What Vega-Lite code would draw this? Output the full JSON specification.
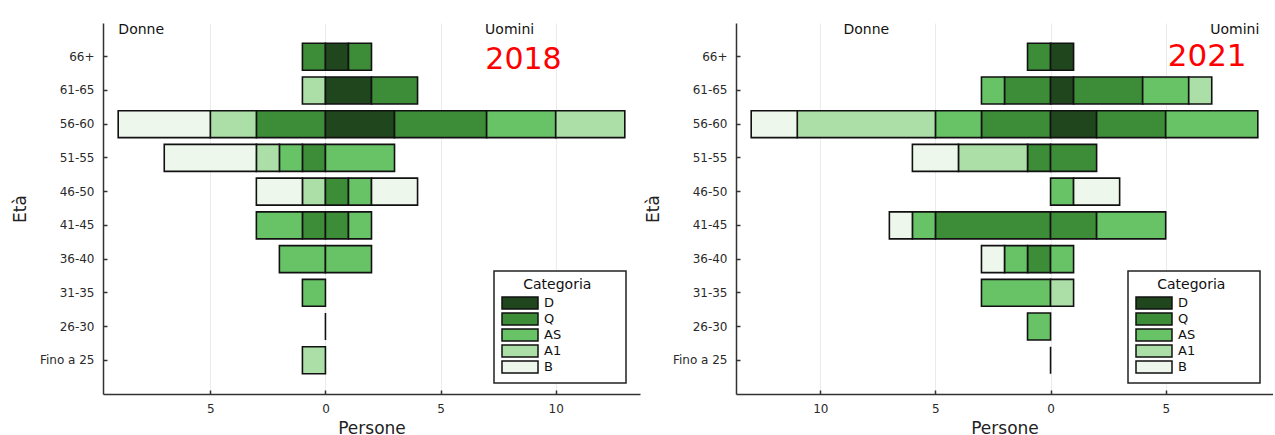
{
  "$schema": "https://vega.github.io/schema/vega-lite/v6.json",
  "padding": {"left": 11, "top": 22, "right": 0, "bottom": 2},
  "spacing": 4,
  "datasets": {
    "categorie": [
      {"cat": "D", "rank": 1},
      {"cat": "Q", "rank": 2},
      {"cat": "AS", "rank": 3},
      {"cat": "A1", "rank": 4},
      {"cat": "B", "rank": 5}
    ],
    "bars": [
      {"anno": 2018, "eta": "66+", "sesso": "Donne", "cat": "Q", "persone": -1},
      {"anno": 2018, "eta": "66+", "sesso": "Uomini", "cat": "D", "persone": 1},
      {"anno": 2018, "eta": "66+", "sesso": "Uomini", "cat": "Q", "persone": 1},
      {"anno": 2018, "eta": "61-65", "sesso": "Donne", "cat": "A1", "persone": -1},
      {"anno": 2018, "eta": "61-65", "sesso": "Uomini", "cat": "D", "persone": 2},
      {"anno": 2018, "eta": "61-65", "sesso": "Uomini", "cat": "Q", "persone": 2},
      {"anno": 2018, "eta": "56-60", "sesso": "Donne", "cat": "Q", "persone": -3},
      {"anno": 2018, "eta": "56-60", "sesso": "Donne", "cat": "A1", "persone": -2},
      {"anno": 2018, "eta": "56-60", "sesso": "Donne", "cat": "B", "persone": -4},
      {"anno": 2018, "eta": "56-60", "sesso": "Uomini", "cat": "D", "persone": 3},
      {"anno": 2018, "eta": "56-60", "sesso": "Uomini", "cat": "Q", "persone": 4},
      {"anno": 2018, "eta": "56-60", "sesso": "Uomini", "cat": "AS", "persone": 3},
      {"anno": 2018, "eta": "56-60", "sesso": "Uomini", "cat": "A1", "persone": 3},
      {"anno": 2018, "eta": "51-55", "sesso": "Donne", "cat": "Q", "persone": -1},
      {"anno": 2018, "eta": "51-55", "sesso": "Donne", "cat": "AS", "persone": -1},
      {"anno": 2018, "eta": "51-55", "sesso": "Donne", "cat": "A1", "persone": -1},
      {"anno": 2018, "eta": "51-55", "sesso": "Donne", "cat": "B", "persone": -4},
      {"anno": 2018, "eta": "51-55", "sesso": "Uomini", "cat": "AS", "persone": 3},
      {"anno": 2018, "eta": "46-50", "sesso": "Donne", "cat": "A1", "persone": -1},
      {"anno": 2018, "eta": "46-50", "sesso": "Donne", "cat": "B", "persone": -2},
      {"anno": 2018, "eta": "46-50", "sesso": "Uomini", "cat": "Q", "persone": 1},
      {"anno": 2018, "eta": "46-50", "sesso": "Uomini", "cat": "AS", "persone": 1},
      {"anno": 2018, "eta": "46-50", "sesso": "Uomini", "cat": "B", "persone": 2},
      {"anno": 2018, "eta": "41-45", "sesso": "Donne", "cat": "Q", "persone": -1},
      {"anno": 2018, "eta": "41-45", "sesso": "Donne", "cat": "AS", "persone": -2},
      {"anno": 2018, "eta": "41-45", "sesso": "Uomini", "cat": "Q", "persone": 1},
      {"anno": 2018, "eta": "41-45", "sesso": "Uomini", "cat": "AS", "persone": 1},
      {"anno": 2018, "eta": "36-40", "sesso": "Donne", "cat": "AS", "persone": -2},
      {"anno": 2018, "eta": "36-40", "sesso": "Uomini", "cat": "AS", "persone": 2},
      {"anno": 2018, "eta": "31-35", "sesso": "Donne", "cat": "AS", "persone": -1},
      {"anno": 2018, "eta": "26-30", "sesso": "Uomini", "cat": "B", "persone": 0},
      {"anno": 2018, "eta": "Fino a 25", "sesso": "Donne", "cat": "A1", "persone": -1},

      {"anno": 2021, "eta": "66+", "sesso": "Donne", "cat": "Q", "persone": -1},
      {"anno": 2021, "eta": "66+", "sesso": "Uomini", "cat": "D", "persone": 1},
      {"anno": 2021, "eta": "61-65", "sesso": "Donne", "cat": "Q", "persone": -2},
      {"anno": 2021, "eta": "61-65", "sesso": "Donne", "cat": "AS", "persone": -1},
      {"anno": 2021, "eta": "61-65", "sesso": "Uomini", "cat": "D", "persone": 1},
      {"anno": 2021, "eta": "61-65", "sesso": "Uomini", "cat": "Q", "persone": 3},
      {"anno": 2021, "eta": "61-65", "sesso": "Uomini", "cat": "AS", "persone": 2},
      {"anno": 2021, "eta": "61-65", "sesso": "Uomini", "cat": "A1", "persone": 1},
      {"anno": 2021, "eta": "56-60", "sesso": "Donne", "cat": "Q", "persone": -3},
      {"anno": 2021, "eta": "56-60", "sesso": "Donne", "cat": "AS", "persone": -2},
      {"anno": 2021, "eta": "56-60", "sesso": "Donne", "cat": "A1", "persone": -6},
      {"anno": 2021, "eta": "56-60", "sesso": "Donne", "cat": "B", "persone": -2},
      {"anno": 2021, "eta": "56-60", "sesso": "Uomini", "cat": "D", "persone": 2},
      {"anno": 2021, "eta": "56-60", "sesso": "Uomini", "cat": "Q", "persone": 3},
      {"anno": 2021, "eta": "56-60", "sesso": "Uomini", "cat": "AS", "persone": 4},
      {"anno": 2021, "eta": "51-55", "sesso": "Donne", "cat": "Q", "persone": -1},
      {"anno": 2021, "eta": "51-55", "sesso": "Donne", "cat": "A1", "persone": -3},
      {"anno": 2021, "eta": "51-55", "sesso": "Donne", "cat": "B", "persone": -2},
      {"anno": 2021, "eta": "51-55", "sesso": "Uomini", "cat": "Q", "persone": 2},
      {"anno": 2021, "eta": "46-50", "sesso": "Uomini", "cat": "AS", "persone": 1},
      {"anno": 2021, "eta": "46-50", "sesso": "Uomini", "cat": "B", "persone": 2},
      {"anno": 2021, "eta": "41-45", "sesso": "Donne", "cat": "Q", "persone": -5},
      {"anno": 2021, "eta": "41-45", "sesso": "Donne", "cat": "AS", "persone": -1},
      {"anno": 2021, "eta": "41-45", "sesso": "Donne", "cat": "B", "persone": -1},
      {"anno": 2021, "eta": "41-45", "sesso": "Uomini", "cat": "Q", "persone": 2},
      {"anno": 2021, "eta": "41-45", "sesso": "Uomini", "cat": "AS", "persone": 3},
      {"anno": 2021, "eta": "36-40", "sesso": "Donne", "cat": "Q", "persone": -1},
      {"anno": 2021, "eta": "36-40", "sesso": "Donne", "cat": "AS", "persone": -1},
      {"anno": 2021, "eta": "36-40", "sesso": "Donne", "cat": "B", "persone": -1},
      {"anno": 2021, "eta": "36-40", "sesso": "Uomini", "cat": "AS", "persone": 1},
      {"anno": 2021, "eta": "31-35", "sesso": "Donne", "cat": "AS", "persone": -3},
      {"anno": 2021, "eta": "31-35", "sesso": "Uomini", "cat": "A1", "persone": 1},
      {"anno": 2021, "eta": "26-30", "sesso": "Donne", "cat": "AS", "persone": -1},
      {"anno": 2021, "eta": "Fino a 25", "sesso": "Uomini", "cat": "B", "persone": 0}
    ],
    "labels": [
      {"anno": 2018, "testo": "Donne", "x": -8, "eta": "66+"},
      {"anno": 2018, "testo": "Uomini", "x": 8, "eta": "66+"},
      {"anno": 2021, "testo": "Donne", "x": -8, "eta": "66+"},
      {"anno": 2021, "testo": "Uomini", "x": 8, "eta": "66+"}
    ],
    "anni": [
      {"anno": 2018, "testo": "2018", "x": 8.6, "eta": "66+"},
      {"anno": 2021, "testo": "2021", "x": 6.8, "eta": "66+"}
    ]
  },
  "hconcat": [
    {
      "width": 537,
      "height": 371,
      "layer": [
        {
          "data": {"name": "bars"},
          "transform": [
            {"filter": "datum.anno == 2018"},
            {"lookup": "cat", "from": {"data": {"name": "categorie"}, "key": "cat", "fields": ["rank"]}}
          ],
          "mark": {"type": "bar", "stroke": "#111", "strokeWidth": 1.6},
          "encoding": {
            "y": {"field": "eta", "type": "nominal", "scale": {"domain": ["66+", "61-65", "56-60", "51-55", "46-50", "41-45", "36-40", "31-35", "26-30", "Fino a 25"], "paddingInner": 0.2, "paddingOuter": 0.6}, "title": "Età"},
            "x": {"field": "persone", "type": "quantitative", "stack": "zero", "scale": {"domain": [-9.66, 13.66], "nice": false, "zero": false}, "axis": {"values": [-5, 0, 5, 10], "labelExpr": "abs(datum.value)"}, "title": "Persone"},
            "order": {"field": "rank", "type": "quantitative"},
            "color": {"field": "cat", "type": "nominal", "scale": {"domain": ["D", "Q", "AS", "A1", "B"], "range": ["#1f461d", "#3d8c38", "#68c266", "#acdea7", "#edf7eb"]}, "title": "\u200b\u00a0\u00a0\u00a0\u00a0\u00a0Categoria\u00a0\u00a0\u00a0\u00a0\u00a0\u00a0\u200b", "legend": {"orient": "none", "legendX": 391, "legendY": 248}}
          }
        },
        {
          "data": {"name": "labels"},
          "transform": [{"filter": "datum.anno == 2018"}],
          "mark": {"type": "text", "fontSize": 14, "color": "#111", "dy": -27},
          "encoding": {
            "x": {"field": "x", "type": "quantitative"},
            "y": {"field": "eta", "type": "nominal"},
            "text": {"field": "testo"}
          }
        },
        {
          "data": {"name": "anni"},
          "transform": [{"filter": "datum.anno == 2018"}],
          "mark": {"type": "text", "fontSize": 30, "color": "#ff0000", "dy": 3},
          "encoding": {
            "x": {"field": "x", "type": "quantitative"},
            "y": {"field": "eta", "type": "nominal"},
            "text": {"field": "testo"}
          }
        }
      ]
    },
    {
      "width": 537,
      "height": 371,
      "layer": [
        {
          "data": {"name": "bars"},
          "transform": [
            {"filter": "datum.anno == 2021"},
            {"lookup": "cat", "from": {"data": {"name": "categorie"}, "key": "cat", "fields": ["rank"]}}
          ],
          "mark": {"type": "bar", "stroke": "#111", "strokeWidth": 1.6},
          "encoding": {
            "y": {"field": "eta", "type": "nominal", "scale": {"domain": ["66+", "61-65", "56-60", "51-55", "46-50", "41-45", "36-40", "31-35", "26-30", "Fino a 25"], "paddingInner": 0.2, "paddingOuter": 0.6}, "title": "Età"},
            "x": {"field": "persone", "type": "quantitative", "stack": "zero", "scale": {"domain": [-13.66, 9.66], "nice": false, "zero": false}, "axis": {"values": [-10, -5, 0, 5], "labelExpr": "abs(datum.value)"}, "title": "Persone"},
            "order": {"field": "rank", "type": "quantitative"},
            "color": {"field": "cat", "type": "nominal", "scale": {"domain": ["D", "Q", "AS", "A1", "B"], "range": ["#1f461d", "#3d8c38", "#68c266", "#acdea7", "#edf7eb"]}, "title": "\u200b\u00a0\u00a0\u00a0\u00a0\u00a0Categoria\u00a0\u00a0\u00a0\u00a0\u00a0\u00a0\u200b", "legend": {"orient": "none", "legendX": 392, "legendY": 248}}
          }
        },
        {
          "data": {"name": "labels"},
          "transform": [{"filter": "datum.anno == 2021"}],
          "mark": {"type": "text", "fontSize": 14, "color": "#111", "dy": -27},
          "encoding": {
            "x": {"field": "x", "type": "quantitative"},
            "y": {"field": "eta", "type": "nominal"},
            "text": {"field": "testo"}
          }
        },
        {
          "data": {"name": "anni"},
          "transform": [{"filter": "datum.anno == 2021"}],
          "mark": {"type": "text", "fontSize": 31, "color": "#ff0000", "dy": 0},
          "encoding": {
            "x": {"field": "x", "type": "quantitative"},
            "y": {"field": "eta", "type": "nominal"},
            "text": {"field": "testo"}
          }
        }
      ]
    }
  ],
  "resolve": {"scale": {"color": "independent", "x": "independent", "y": "independent"}, "legend": {"color": "independent"}},
  "config": {
    "font": "DejaVu Sans",
    "view": {"stroke": null},
    "axis": {
      "domainColor": "#333",
      "domainWidth": 1.5,
      "tickColor": "#333",
      "tickWidth": 1.5,
      "tickSize": -4,
      "labelColor": "#2a2a2a",
      "labelFontSize": 12,
      "titleFontSize": 17,
      "titleFontWeight": "normal",
      "titleColor": "#222"
    },
    "axisX": {"grid": true, "gridColor": "#ebebeb", "gridWidth": 1, "labelPadding": 13, "titlePadding": 6},
    "axisY": {"grid": false, "labelPadding": 13, "titlePadding": 10},
    "legend": {
      "strokeColor": "#222",
      "strokeWidth": 1.5,
      "fillColor": "#ffffff",
      "padding": 7,
      "titleFontSize": 14,
      "titleFontWeight": "normal",
      "titleColor": "#111",
      "titleAnchor": "start",
      "titlePadding": 4,
      "labelFontSize": 13,
      "labelColor": "#111",
      "symbolType": "M-3,-1H3V1H-3Z",
      "symbolSize": 144,
      "symbolOffset": 12,
      "symbolStrokeColor": "#111",
      "symbolStrokeWidth": 1.5,
      "symbolOpacity": 1,
      "rowPadding": -7,
      "labelOffset": 17
    }
  }
}
